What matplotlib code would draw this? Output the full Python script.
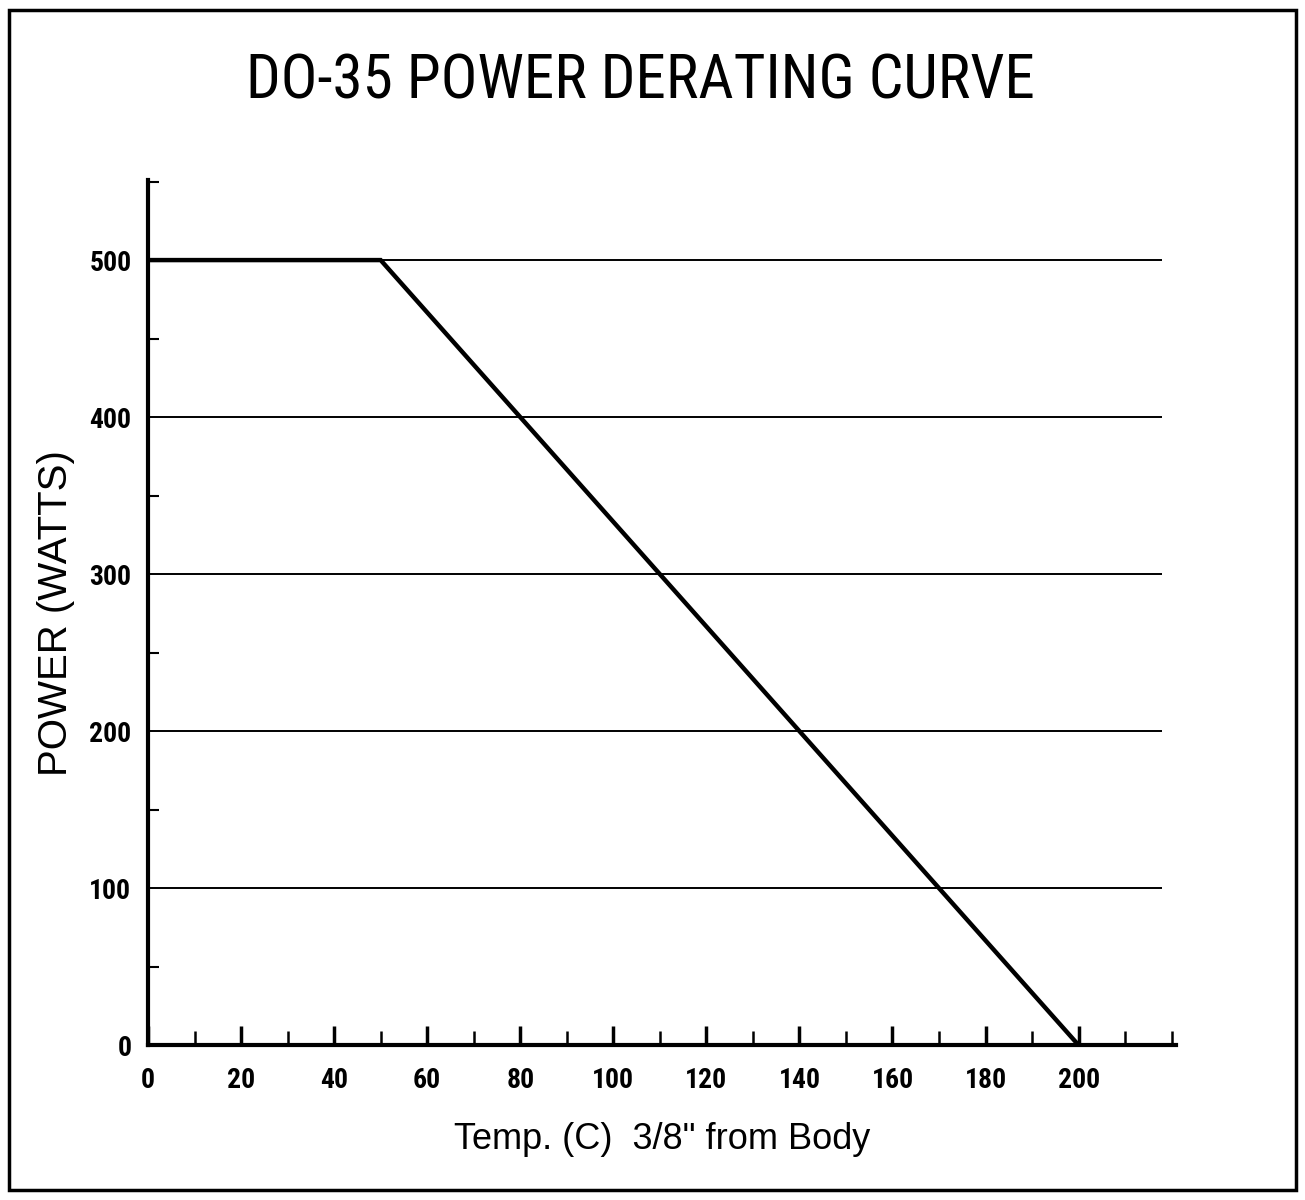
import matplotlib.pyplot as plt
from matplotlib.patches import Rectangle
from matplotlib.ticker import MultipleLocator
from matplotlib import font_manager

# Derating curve corner points
temp_c = [0, 50, 200]
power_w = [500, 500, 0]

grid_levels = [100, 200, 300, 400, 500]
x_ticks = [0, 20, 40, 60, 80, 100, 120, 140, 160, 180, 200]
y_ticks = [0, 100, 200, 300, 400, 500]

installed = {f.name for f in font_manager.fontManager.ttflist}
condensed = [n for n in ['Liberation Sans Narrow', 'Roboto Condensed', 'DejaVu Sans Condensed']
             if n in installed]
narrow = condensed + ['Liberation Sans', 'DejaVu Sans']

fig = plt.figure(figsize=(13.05, 12), dpi=100)
ax = fig.add_axes([0.1134, 0.129, 0.788, 0.721])

# horizontal reference lines
ax.hlines(grid_levels, 0, 218, colors='black', linewidth=1.4, zorder=1)

ax.plot(temp_c, power_w, color='black', linewidth=3.2, solid_joinstyle='miter', zorder=3)

ax.set_xlim(0, 221)
ax.set_ylim(0, 551)

for s in ['top', 'right']:
    ax.spines[s].set_visible(False)
for s in ['left', 'bottom']:
    ax.spines[s].set_linewidth(3)

ax.set_xticks(x_ticks)
ax.set_yticks(y_ticks)
ax.xaxis.set_minor_locator(MultipleLocator(10))
ax.yaxis.set_minor_locator(MultipleLocator(50))
ax.tick_params(axis='x', which='major', direction='in', length=14, width=2.5, pad=16)
ax.tick_params(axis='x', which='minor', direction='in', length=10, width=1.8)
ax.tick_params(axis='y', which='major', direction='in', length=0, pad=12)
ax.tick_params(axis='y', which='minor', direction='in', length=8, width=1.5)

for lab in ax.get_xticklabels() + ax.get_yticklabels():
    lab.set_fontfamily(narrow)
    lab.set_fontsize(20)
    lab.set_fontweight('bold')

ax.set_xlabel('Temp. (C)  3/8" from Body', fontsize=26, family=['Liberation Sans', 'DejaVu Sans'],
              labelpad=20)
ax.set_ylabel('POWER (WATTS)', fontsize=29, family=['Liberation Sans', 'DejaVu Sans'],
              labelpad=10)

title_size = 44 if condensed else 40
fig.text(0.491, 0.932, 'DO-35 POWER DERATING CURVE', ha='center', va='center',
         fontsize=title_size, family=narrow)

# outer frame
fig.patches.append(Rectangle((0.007, 0.008), 0.986, 0.984, transform=fig.transFigure,
                             fill=False, edgecolor='black', linewidth=2.5))

fig.savefig('out.png', dpi=100)
